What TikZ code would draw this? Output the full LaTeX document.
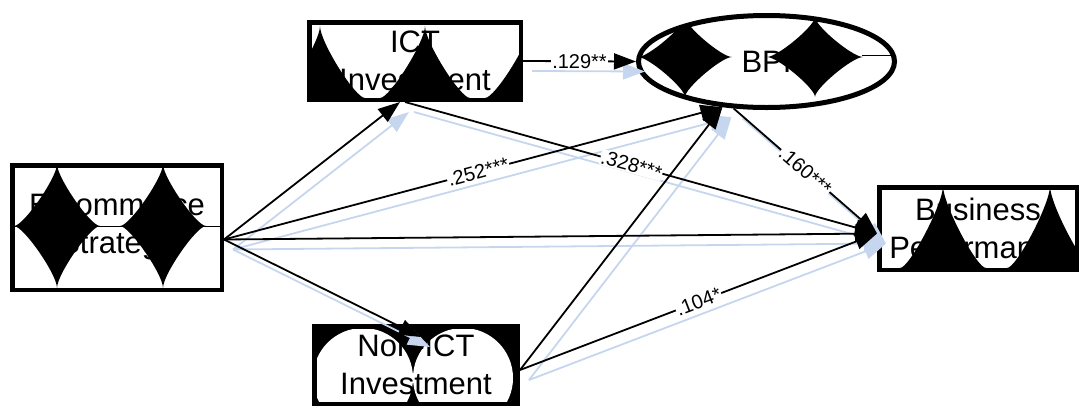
\documentclass[tikz,border=0pt]{standalone}
\usepackage{fontspec}
\setmainfont{Liberation Sans}
\usetikzlibrary{arrows.meta,shapes.geometric}
\definecolor{shc}{RGB}{198,214,238}
\newcommand\astr[4]{%
 \fill ({#1+#3},{#2}) .. controls ({#1+0.78*#3},{#2}) and ({#1},{#2+0.78*#4}) .. ({#1},{#2+#4})
  .. controls ({#1},{#2+0.78*#4}) and ({#1-0.78*#3},{#2}) .. ({#1-#3},{#2})
  .. controls ({#1-0.78*#3},{#2}) and ({#1},{#2-0.78*#4}) .. ({#1},{#2-#4})
  .. controls ({#1},{#2-0.78*#4}) and ({#1+0.78*#3},{#2}) .. ({#1+#3},{#2}) -- cycle;}
\begin{document}
\begin{tikzpicture}[x=1pt,y=-1pt,
  box/.style={draw, line width=4.5pt, rectangle, inner sep=0pt, align=center,
    font=\fontsize{31}{38}\selectfont},
  ell/.style={draw, line width=5pt, ellipse, inner sep=0pt, align=center,
    font=\fontsize{31}{38}\selectfont},
  arr/.style={line width=1.8pt, draw=black, -{Triangle[length=22pt,width=16pt]}},
  sh/.style={line width=1.8pt, draw=shc, -{Triangle[length=22pt,width=16pt]}},
  lbl/.style={fill=white, inner sep=0.8pt, font=\fontsize{20}{20}\selectfont}]
\useasboundingbox (0,0) rectangle (1081,405);

% ---- E-commerce Strategy ----
\begin{scope}
  \clip (12.25,165.25) rectangle (221.75,289.75);
  \astr{57}{226}{43}{62}
  \astr{163}{226}{43}{62}
  \draw[line width=0.6pt] (12,226) -- (222,226);
\end{scope}
\node[box, minimum width=209.5pt, minimum height=124.5pt] (ecom) at (117,227.5) {E-commerce\\Strategy};

% ---- ICT Investment ----
\begin{scope}
  \clip (309.25,22.25) rectangle (520.75,99.75);
  \astr{320}{98}{45}{72}
  \astr{425}{98}{45}{72}
  \astr{530}{98}{45}{72}
\end{scope}
\node[box, minimum width=211.5pt, minimum height=77.5pt] (ict) at (415,61) {ICT\\Investment};

% ---- BPI ----
\begin{scope}
  \clip (766.5,61.5) ellipse [x radius=128, y radius=46];
  \astr{685}{57}{47}{40}
  \astr{815}{57}{48}{40}
  \draw[line width=0.6pt] (862,55) -- (897,55);
\end{scope}
\node[ell, minimum width=256pt, minimum height=92pt] (bpi) at (766.5,61.5) {BPI};

% ---- Business Performance ----
\begin{scope}
  \clip (879.25,187.25) rectangle (1076.75,269.75);
  \astr{943}{268}{43}{82}
  \astr{1050}{268}{43}{82}
\end{scope}
\node[box, minimum width=197.5pt, minimum height=82.5pt] (bp) at (978,228.5) {Business\\Performance};

% ---- Non-ICT Investment ----
\begin{scope}
  \clip (314.25,326.25) rectangle (517.75,403.75);
  \fill[black] (314,326) rectangle (518,404);
  \fill[white] (363,378) circle [radius=50];
  \fill[white] (463,378) circle [radius=50];
\end{scope}
\node[box, minimum width=203.5pt, minimum height=77.5pt] (nonict) at (416,365) {Non-ICT\\Investment};

% ---- shadow connectors ----
\draw[sh] ([xshift=9pt,yshift=-22pt]ecom.east) -- ([xshift=-6pt,yshift=-10pt]ict.south);
\draw[sh] ([xshift=9pt,yshift=-22pt]ecom.east) -- ([xshift=9pt,yshift=-10pt]bpi.226);
\draw[sh] ([xshift=9pt,yshift=-22pt]ecom.east) -- ([xshift=9pt,yshift=-15pt]bp.west);
\draw[sh] ([xshift=9pt,yshift=-22pt]ecom.east) -- ([xshift=14pt,yshift=-23pt]nonict.north);
\draw[sh] ([xshift=9pt,yshift=-10pt]ict.east) -- ([xshift=9pt,yshift=-10pt]bpi.west);
\draw[sh] ([xshift=-1pt,yshift=-10pt]ict.south) -- ([xshift=9pt,yshift=-15pt]bp.west);
\draw[sh] ([xshift=9pt,yshift=-10pt]bpi.235) -- ([xshift=9pt,yshift=-15pt]bp.west);
\draw[sh] ([xshift=9pt,yshift=-15pt]nonict.east) -- ([xshift=9pt,yshift=-10pt]bpi.226);
\draw[sh] ([xshift=9pt,yshift=-15pt]nonict.east) -- ([xshift=9pt,yshift=-15pt]bp.west);

% ---- connectors ----
\draw[arr] ([yshift=-12pt]ecom.east) -- ([xshift=-15pt]ict.south);
\draw[arr] ([yshift=-12pt]ecom.east) -- node[lbl, sloped, pos=0.51] {.252***} (bpi.226);
\draw[arr] ([yshift=-12pt]ecom.east) -- ([yshift=-5pt]bp.west);
\draw[arr] ([yshift=-12pt]ecom.east) -- ([xshift=5pt,yshift=-13pt]nonict.north);
\draw[arr] (ict.east) -- node[lbl, pos=0.5] {.129**} (bpi.west);
\draw[arr] ([xshift=-10pt]ict.south) -- node[lbl, sloped, pos=0.48] {.328***} ([yshift=-5pt]bp.west);
\draw[arr] (bpi.235) -- node[lbl, sloped, pos=0.5] {.160***} ([yshift=-5pt]bp.west);
\draw[arr] ([yshift=-5pt]nonict.east) -- (bpi.226);
\draw[arr] ([yshift=-5pt]nonict.east) -- node[lbl, sloped, pos=0.5] {.104*} ([yshift=-5pt]bp.west);
\end{tikzpicture}
\end{document}
